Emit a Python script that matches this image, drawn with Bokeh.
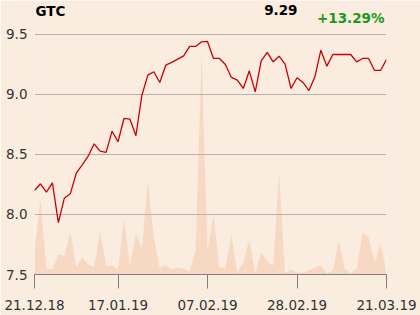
from bokeh.plotting import figure
from bokeh.models import FixedTicker, Range1d, Label, NumeralTickFormatter
from bokeh.embed import file_html
from bokeh.resources import INLINE

# --- data -------------------------------------------------------------
price = [8.20, 8.256, 8.186, 8.264, 7.933, 8.136, 8.172, 8.344, 8.414, 8.486,
         8.589, 8.528, 8.517, 8.694, 8.606, 8.80, 8.794, 8.656, 8.994, 9.161,
         9.189, 9.10, 9.244, 9.267, 9.294, 9.322, 9.40, 9.40, 9.439, 9.442,
         9.30, 9.30, 9.25, 9.142, 9.12, 9.05, 9.197, 9.022, 9.28, 9.35,
         9.272, 9.319, 9.253, 9.05, 9.139, 9.10, 9.033, 9.147, 9.369, 9.236,
         9.333, 9.333, 9.333, 9.333, 9.272, 9.30, 9.30, 9.20, 9.20, 9.29]
volume = [24, 74, 6, 5, 20, 19, 43, 7, 17, 10,
          7, 44, 9, 9, 5, 56, 9, 41, 26, 94,
          37, 7, 9, 5, 7, 6, 3, 24, 219, 24,
          59, 7, 7, 39, 2, 12, 35, 2, 22, 13,
          9, 103, 1, 5, 2, 2, 4, 7, 9, 1,
          4, 34, 6, 1, 6, 42, 37, 12, 31, 2]
tick_index = [0, 14, 29, 44, 59]
tick_labels = ["21.12.18", "17.01.19", "07.02.19", "28.02.19", "21.03.19"]
y_ticks = [7.5, 8.0, 8.5, 9.0, 9.5]
title_text = "GTC"
last_text = "9.29"
change_text = "+13.29%"

x = list(range(len(price)))

BG = "#fbece0"
FONT = "DejaVu Sans"

p = figure(width=420, height=315, output_backend="svg", toolbar_location=None,
           x_range=Range1d(0, len(price) - 1), y_range=Range1d(7.5, 9.783),
           background_fill_color=BG, border_fill_color=BG,
           min_border_left=34, min_border_right=34, min_border_top=0,
           min_border_bottom=41, outline_line_color=None)

p.extra_y_ranges = {"vol": Range1d(0, 274)}
p.varea(x=x, y1=[0] * len(volume), y2=volume, fill_color="#f7d9c3",
        y_range_name="vol", level="image")
p.line(x, price, line_color="#cc0000", line_width=1.3)

# x axis
xa = p.xaxis[0]
xa.ticker = FixedTicker(ticks=tick_index)
xa.major_label_overrides = {i: s for i, s in zip(tick_index, tick_labels)}
xa.axis_line_color = "#808080"
xa.major_tick_line_color = "#808080"
xa.major_tick_out = 14
xa.major_tick_in = 0
xa.minor_tick_line_color = None
xa.major_label_standoff = 11
xa.major_label_text_font = FONT
xa.major_label_text_font_size = "13.5px"
xa.major_label_text_color = "#333333"

# y axis
ya = p.yaxis[0]
ya.ticker = FixedTicker(ticks=y_ticks)
ya.formatter = NumeralTickFormatter(format="0.0")
ya.axis_line_color = None
ya.major_tick_line_color = None
ya.minor_tick_line_color = None
ya.major_tick_out = 0
ya.major_tick_in = 0
ya.major_label_standoff = 7
ya.major_label_text_font = FONT
ya.major_label_text_font_size = "13.5px"
ya.major_label_text_color = "#333333"

p.xgrid.grid_line_color = None
p.ygrid.ticker = FixedTicker(ticks=y_ticks)
p.ygrid.grid_line_color = "#b3b3b3"
p.ygrid.grid_line_width = 1

hdr = dict(x_units="screen", y_units="screen", text_font=FONT,
           text_font_size="13.5px", text_font_style="bold", text_baseline="middle")
p.add_layout(Label(x=1, y=264, text=title_text, text_color="#000000", **hdr))
p.add_layout(Label(x=263, y=265, text=last_text, text_color="#000000",
                   text_align="right", **hdr))
p.add_layout(Label(x=350, y=257, text=change_text, text_color="#1a9a1a",
                   text_align="right", **hdr))

open("out.html", "w").write(file_html(p, INLINE))
